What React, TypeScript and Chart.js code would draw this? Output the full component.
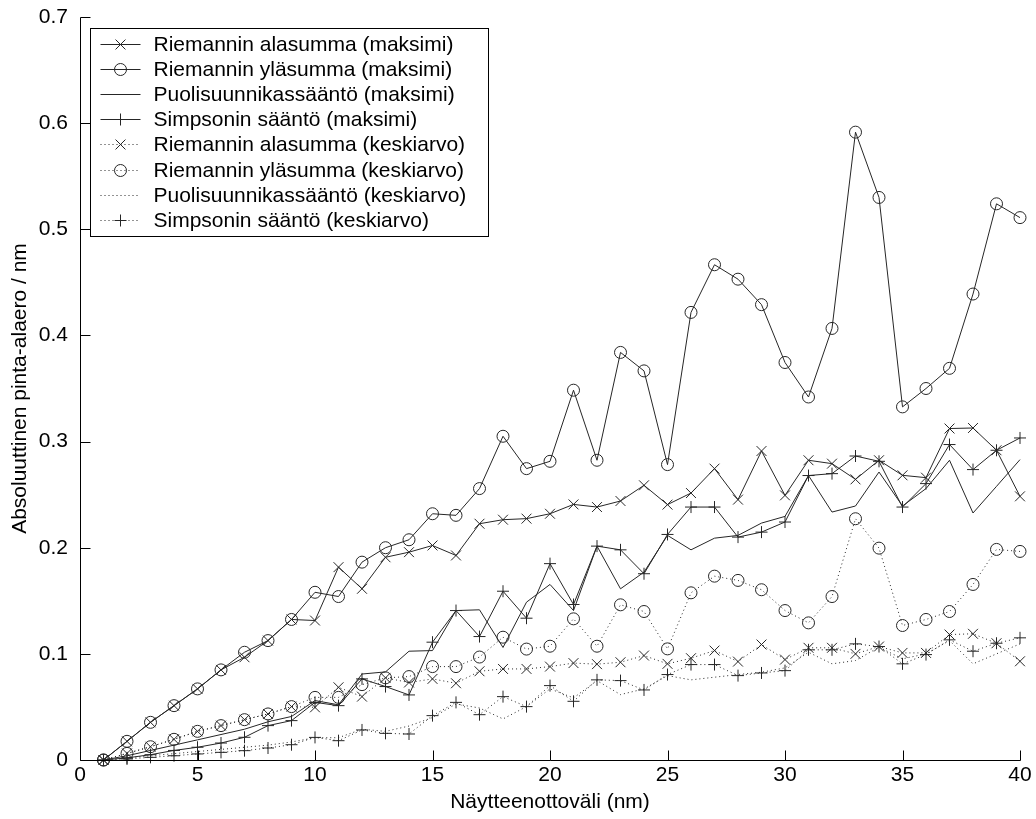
import React, { useEffect, useRef } from 'react';
import { Chart, registerables } from 'chart.js';

Chart.register(...registerables);

// Sampling interval (nm)
const intervals = [
  1, 2, 3, 4, 5, 6, 7, 8, 9, 10, 11, 12, 13, 14, 15, 16, 17, 18, 19, 20,
  21, 22, 23, 24, 25, 26, 27, 28, 29, 30, 31, 32, 33, 34, 35, 36, 37, 38, 39, 40,
];

// Maximum absolute area error (nm)
const riemannLowerMax = [
  0, 0.0176, 0.0355, 0.0512, 0.067, 0.0849, 0.0968, 0.1125, 0.1324, 0.1314,
  0.1817, 0.1613, 0.191, 0.1958, 0.2021, 0.1927, 0.2226, 0.2264, 0.2274, 0.232,
  0.2408, 0.2383, 0.244, 0.2588, 0.2406, 0.2515, 0.2745, 0.2453, 0.2911, 0.2493,
  0.2824, 0.2792, 0.2644, 0.2824, 0.2682, 0.266, 0.3123, 0.3128, 0.2918, 0.2484,
];
const riemannUpperMax = [
  0, 0.0176, 0.0355, 0.0512, 0.067, 0.0849, 0.1015, 0.1125, 0.1324, 0.158,
  0.154, 0.1864, 0.2, 0.2075, 0.232, 0.2305, 0.2557, 0.305, 0.2745, 0.2814,
  0.3484, 0.2824, 0.384, 0.3666, 0.2783, 0.4217, 0.4666, 0.453, 0.429, 0.3745,
  0.342, 0.4066, 0.5915, 0.53, 0.3327, 0.35, 0.369, 0.439, 0.524, 0.511,
];
const trapezoidMax = [
  0, 0.004, 0.009, 0.014, 0.019, 0.024, 0.029, 0.036, 0.041, 0.056,
  0.052, 0.081, 0.083, 0.1025, 0.1031, 0.1408, 0.1415, 0.106, 0.1487, 0.1654,
  0.1408, 0.2015, 0.1613, 0.177, 0.2116, 0.198, 0.209, 0.2116, 0.2232, 0.2295,
  0.268, 0.2336, 0.2393, 0.2713, 0.2393, 0.2557, 0.2824, 0.2327, 0.2578, 0.283,
];
const simpsonMax = [
  0, 0.002, 0.005, 0.009, 0.012, 0.016, 0.0214, 0.0324, 0.0371, 0.0543,
  0.0512, 0.0764, 0.0692, 0.0613, 0.111, 0.1408, 0.1163, 0.159, 0.1336, 0.185,
  0.1465, 0.2015, 0.198, 0.1755, 0.2125, 0.2383, 0.2383, 0.21, 0.2147, 0.2242,
  0.268, 0.2698, 0.2864, 0.2814, 0.2383, 0.2604, 0.2972, 0.2736, 0.2918, 0.3034,
];

// Mean absolute area error (nm)
const riemannLowerMean = [
  0, 0.0062, 0.0125, 0.0195, 0.027, 0.0324, 0.038, 0.0434, 0.0503, 0.0496,
  0.0685, 0.0597, 0.0774, 0.073, 0.0764, 0.0723, 0.0836, 0.0858, 0.0858, 0.088,
  0.0913, 0.0903, 0.0921, 0.0984, 0.0906, 0.0959, 0.1031, 0.0927, 0.1088, 0.0946,
  0.1057, 0.1057, 0.1, 0.1069, 0.1009, 0.1009, 0.1182, 0.1189, 0.11, 0.093,
];
const riemannUpperMean = [
  0, 0.0062, 0.0125, 0.0195, 0.027, 0.0324, 0.038, 0.0434, 0.0503, 0.059,
  0.059, 0.071, 0.0774, 0.0786, 0.088, 0.088, 0.097, 0.1157, 0.1045, 0.1072,
  0.133, 0.1072, 0.1462, 0.1399, 0.1047, 0.1575, 0.1732, 0.1692, 0.1604, 0.1408,
  0.1292, 0.154, 0.2273, 0.1996, 0.1267, 0.1324, 0.1399, 0.1654, 0.1984, 0.1965,
];
const trapezoidMean = [
  0, 0.002, 0.004, 0.006, 0.008, 0.01, 0.012, 0.014, 0.017, 0.021,
  0.021, 0.029, 0.027, 0.032, 0.04, 0.0528, 0.049, 0.0387, 0.0503, 0.067,
  0.0585, 0.0748, 0.0616, 0.067, 0.0795, 0.0755, 0.078, 0.0805, 0.0827, 0.0868,
  0.1015, 0.0906, 0.0937, 0.1063, 0.0953, 0.1, 0.1125, 0.0906, 0.1, 0.1094,
];
const simpsonMean = [
  0, 0.001, 0.0025, 0.004, 0.0057, 0.0072, 0.0088, 0.0113, 0.0144, 0.0213,
  0.0182, 0.0283, 0.0251, 0.0245, 0.0418, 0.0543, 0.0427, 0.0597, 0.0503, 0.0701,
  0.0553, 0.0755, 0.0748, 0.066, 0.0805, 0.0899, 0.0899, 0.0795, 0.082, 0.0842,
  0.1038, 0.1038, 0.1094, 0.1069, 0.0906, 0.0993, 0.1132, 0.1025, 0.11, 0.1151,
];

const seriesLabels = [
  'Riemannin alasumma (maksimi)',
  'Riemannin yläsumma (maksimi)',
  'Puolisuunnikassääntö (maksimi)',
  'Simpsonin sääntö (maksimi)',
  'Riemannin alasumma (keskiarvo)',
  'Riemannin yläsumma (keskiarvo)',
  'Puolisuunnikassääntö (keskiarvo)',
  'Simpsonin sääntö (keskiarvo)',
];

const xTitle = 'Näytteenottoväli (nm)';
const yTitle = 'Absoluuttinen pinta-alaero / nm';

const INK = '#262626';
const FONT_FAMILY = '"Liberation Sans", Arial, Helvetica, sans-serif';
const FONT_SIZE = 21;
const DOTTED = [1, 3];

type Marker = 'crossRot' | 'circle' | 'cross' | 'none';

const series: { label: string; values: number[]; marker: Marker; dotted: boolean }[] = [
  { label: seriesLabels[0], values: riemannLowerMax, marker: 'crossRot', dotted: false },
  { label: seriesLabels[1], values: riemannUpperMax, marker: 'circle', dotted: false },
  { label: seriesLabels[2], values: trapezoidMax, marker: 'none', dotted: false },
  { label: seriesLabels[3], values: simpsonMax, marker: 'cross', dotted: false },
  { label: seriesLabels[4], values: riemannLowerMean, marker: 'crossRot', dotted: true },
  { label: seriesLabels[5], values: riemannUpperMean, marker: 'circle', dotted: true },
  { label: seriesLabels[6], values: trapezoidMean, marker: 'none', dotted: true },
  { label: seriesLabels[7], values: simpsonMean, marker: 'cross', dotted: true },
];

const markerRadius: Record<Marker, number> = { crossRot: 7, circle: 6, cross: 6, none: 0 };

function strokeMarker(ctx: CanvasRenderingContext2D, marker: Marker, x: number, y: number) {
  if (marker === 'none') return;
  ctx.save();
  ctx.setLineDash([]);
  ctx.beginPath();
  if (marker === 'circle') {
    ctx.arc(x, y, markerRadius.circle, 0, Math.PI * 2);
  } else if (marker === 'cross') {
    const r = markerRadius.cross;
    ctx.moveTo(x - r, y);
    ctx.lineTo(x + r, y);
    ctx.moveTo(x, y - r);
    ctx.lineTo(x, y + r);
  } else {
    const d = markerRadius.crossRot * Math.SQRT1_2;
    ctx.moveTo(x - d, y - d);
    ctx.lineTo(x + d, y + d);
    ctx.moveTo(x - d, y + d);
    ctx.lineTo(x + d, y - d);
  }
  ctx.stroke();
  ctx.restore();
}

// Left and bottom axis lines with inward tick marks
const axesPlugin = {
  id: 'inwardAxes',
  afterDraw(chart: Chart) {
    const { ctx, chartArea, scales } = chart;
    const xs = scales.x;
    const ys = scales.y;
    const left = Math.round(chartArea.left) + 0.5;
    const bottom = Math.round(chartArea.bottom) + 0.5;
    const tick = 10;
    ctx.save();
    ctx.strokeStyle = '#000';
    ctx.lineWidth = 1;
    ctx.beginPath();
    ctx.moveTo(left, Math.round(chartArea.top) + 0.5);
    ctx.lineTo(left, bottom);
    ctx.lineTo(Math.round(chartArea.right) + 0.5, bottom);
    xs.ticks.forEach((t) => {
      const px = Math.round(xs.getPixelForValue(t.value)) + 0.5;
      ctx.moveTo(px, bottom);
      ctx.lineTo(px, bottom - tick);
    });
    ys.ticks.forEach((t) => {
      const py = Math.round(ys.getPixelForValue(t.value)) + 0.5;
      ctx.moveTo(left, py);
      ctx.lineTo(left + tick, py);
    });
    ctx.stroke();
    ctx.restore();
  },
};

// Boxed legend in the upper-left corner of the plot
const legendPlugin = {
  id: 'boxedLegend',
  afterDraw(chart: Chart) {
    const { ctx, chartArea } = chart;
    const boxLeft = chartArea.left + 10.5;
    const boxTop = chartArea.top + 11.5;
    const boxWidth = 398;
    const rowHeight = 25.2;
    const boxHeight = 208;
    ctx.save();
    ctx.fillStyle = '#fff';
    ctx.fillRect(boxLeft, boxTop, boxWidth, boxHeight);
    ctx.strokeStyle = '#000';
    ctx.lineWidth = 1;
    ctx.strokeRect(boxLeft, boxTop, boxWidth, boxHeight);
    ctx.font = `${FONT_SIZE}px ${FONT_FAMILY}`;
    ctx.textBaseline = 'middle';
    ctx.textAlign = 'left';
    series.forEach((s, i) => {
      const cy = Math.round(boxTop + 15 + i * rowHeight) + 0.5;
      const x0 = boxLeft + 10;
      const x1 = boxLeft + 50;
      ctx.strokeStyle = INK;
      ctx.lineWidth = 1;
      ctx.setLineDash(s.dotted ? DOTTED : []);
      ctx.beginPath();
      ctx.moveTo(x0, cy);
      ctx.lineTo(x1, cy);
      ctx.stroke();
      ctx.setLineDash([]);
      strokeMarker(ctx, s.marker, (x0 + x1) / 2, cy);
      ctx.fillStyle = '#000';
      ctx.fillText(s.label, boxLeft + 63, cy + 1);
    });
    ctx.restore();
  },
};

export default function App() {
  const canvasRef = useRef<HTMLCanvasElement | null>(null);

  useEffect(() => {
    const canvas = canvasRef.current;
    if (!canvas) return;
    const font = { family: FONT_FAMILY, size: FONT_SIZE };

    const datasets = series.map((s) => ({
      label: s.label,
      data: s.values.map((v, i) => ({ x: intervals[i], y: v })),
      borderColor: INK,
      backgroundColor: 'rgba(0,0,0,0)',
      borderWidth: 1,
      borderDash: s.dotted ? DOTTED : [],
      pointStyle: s.marker === 'none' ? 'circle' : s.marker,
      pointRadius: markerRadius[s.marker],
      pointBorderColor: INK,
      pointBackgroundColor: 'rgba(0,0,0,0)',
      pointBorderWidth: 1,
      tension: 0,
      fill: false,
      clip: false as const,
    }));

    const chart = new Chart(canvas, {
      type: 'line',
      data: { datasets },
      options: {
        animation: false,
        responsive: false,
        events: [],
        layout: { padding: { top: 17, right: 16, left: 0, bottom: 0 } },
        plugins: {
          legend: { display: false },
          tooltip: { enabled: false },
        },
        scales: {
          x: {
            type: 'linear',
            min: 0,
            max: 40,
            afterFit: (scale: any) => {
              scale.height = 59;
              scale.paddingLeft = 0;
              scale.paddingRight = 0;
            },
            grid: { display: false, drawTicks: false },
            border: { display: false },
            ticks: { stepSize: 5, color: '#000', font, padding: 3, maxRotation: 0 },
            title: {
              display: true,
              text: xTitle,
              color: '#000',
              font,
              padding: { top: 0, bottom: 4 },
            },
          },
          y: {
            type: 'linear',
            min: 0,
            max: 0.7,
            afterFit: (scale: any) => {
              scale.width = 80;
              scale.paddingTop = 0;
              scale.paddingBottom = 0;
            },
            grid: { display: false, drawTicks: false },
            border: { display: false },
            ticks: { stepSize: 0.1, color: '#000', font, padding: 12 },
            title: {
              display: true,
              text: yTitle,
              color: '#000',
              font,
              padding: { top: 8, bottom: 0 },
            },
          },
        },
      },
      plugins: [axesPlugin, legendPlugin],
    });

    return () => chart.destroy();
  }, []);

  return (
    <div style={{ position: 'absolute', left: 0, top: 0, width: 1036, height: 819, background: '#fff' }}>
      <canvas ref={canvasRef} width={1036} height={819} style={{ display: 'block' }} />
    </div>
  );
}
